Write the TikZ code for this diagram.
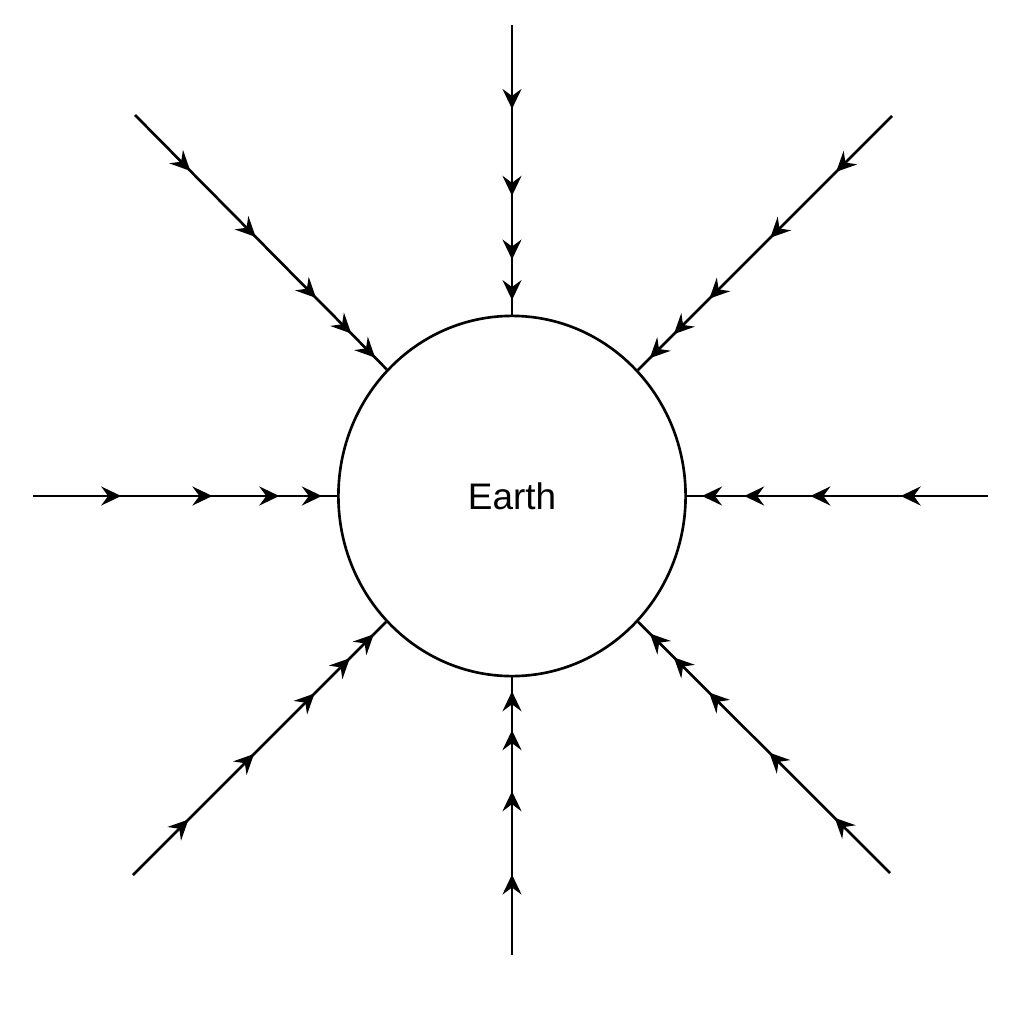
\documentclass[tikz,border=0pt]{standalone}
\usepackage{fontspec}
\newfontfamily\labelfont{Liberation Sans}
\usetikzlibrary{arrows.meta,decorations.markings,shapes.geometric}

\tikzset{
	fieldtip/.tip={Stealth[length=2.0mm,width=1.9mm,inset=0.7mm]},
	straightline/.style={line width=0.75pt, postaction={decorate,decoration={markings,
		mark=at position 0.29 with {\arrow{fieldtip}},
		mark=at position 0.59 with {\arrow{fieldtip}},
		mark=at position 0.81 with {\arrow{fieldtip}},
		mark=at position 0.95 with {\arrow{fieldtip}}}}},
	diagline/.style={line width=0.75pt, postaction={decorate,decoration={markings,
		mark=at position 0.22 with {\arrow{fieldtip}},
		mark=at position 0.48 with {\arrow{fieldtip}},
		mark=at position 0.72 with {\arrow{fieldtip}},
		mark=at position 0.86 with {\arrow{fieldtip}},
		mark=at position 0.955 with {\arrow{fieldtip}}}}}
}

\begin{document}
\begin{tikzpicture}[x=0.01cm,y=-0.01cm]
			\useasboundingbox (0,0) rectangle (1024,1024);
			%\draw [help lines] (0,0) grid (1024,1024);
			\node[ellipse, draw, line width=0.75pt, minimum width=3.47cm, minimum height=3.60cm, inner sep=0pt,
				font=\labelfont\fontsize{10.5}{12}\selectfont] (earth) at (512,496) {Earth};

			\coordinate (top) at (512,25);
			\coordinate (bottom) at (512,955);
			\coordinate (left) at (33,496);
			\coordinate (right) at (988,496);

			\coordinate (topleft) at (135,115);
			\coordinate (topright) at (892,116);
			\coordinate (bottomleft) at (133,875);
			\coordinate (bottomright) at (890,873);

			\draw[straightline] (top) -- (earth);
			\draw[straightline] (bottom) -- (earth);
			\draw[straightline] (left) -- (earth);
			\draw[straightline] (right) -- (earth);

			\draw[diagline] (topleft) -- (earth);
			\draw[diagline] (topright) -- (earth);
			\draw[diagline] (bottomleft) -- (earth);
			\draw[diagline] (bottomright) -- (earth);
		\end{tikzpicture}
\end{document}
